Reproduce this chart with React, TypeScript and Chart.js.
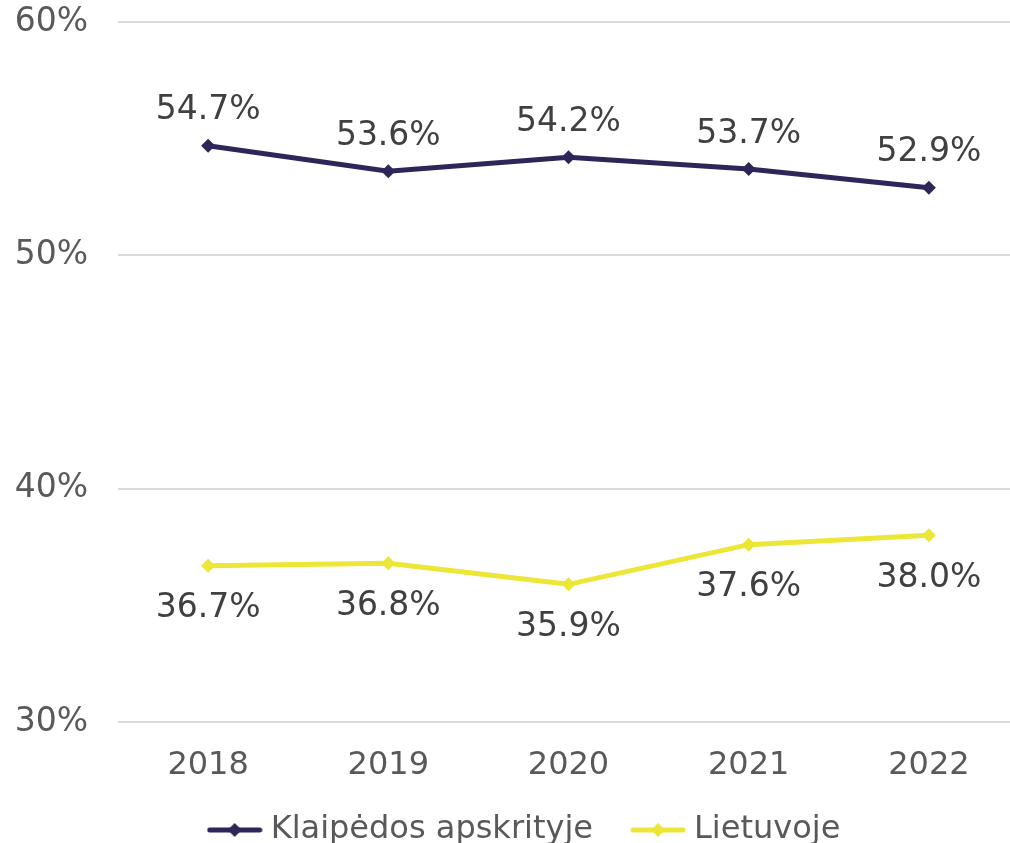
import React, { useEffect, useRef } from "react";
import { Chart, registerables } from "chart.js";

Chart.register(...registerables);

const categories = ["2018", "2019", "2020", "2021", "2022"];
const klaipedaValues = [54.7, 53.6, 54.2, 53.7, 52.9];
const lietuvaValues = [36.7, 36.8, 35.9, 37.6, 38.0];
const seriesNames = ["Klaipėdos apskrityje", "Lietuvoje"];
const yTicks = [30, 40, 50, 60];

const NAVY = "#2d2658";
const YELLOW = "#ece636";
const FONT = "'DejaVu Sans', Verdana, sans-serif";

function legendIcon(color: string) {
  const c = document.createElement("canvas");
  c.width = 56;
  c.height = 16;
  const ctx = c.getContext("2d")!;
  ctx.strokeStyle = color;
  ctx.lineWidth = 5;
  ctx.lineCap = "round";
  ctx.beginPath();
  ctx.moveTo(3, 8);
  ctx.lineTo(53, 8);
  ctx.stroke();
  ctx.fillStyle = color;
  ctx.beginPath();
  ctx.moveTo(28, 1);
  ctx.lineTo(35, 8);
  ctx.lineTo(28, 15);
  ctx.lineTo(21, 8);
  ctx.closePath();
  ctx.fill();
  return c;
}

const dataLabelPlugin = {
  id: "dataLabels",
  beforeLayout(chart: any) {
    const lg = chart.legend;
    if (lg && !lg.__patched) {
      const origFit = lg.fit;
      lg.fit = function () {
        origFit.call(this);
        this.height = 41;
      };
      const origDraw = lg.draw;
      lg.draw = function () {
        const t = this.top;
        const l = this.left;
        const r = this.right;
        this.top = t - 33;
        this.left = l + 18;
        this.right = r + 18;
        origDraw.call(this);
        this.top = t;
        this.left = l;
        this.right = r;
      };
      lg.__patched = true;
    }
  },
  afterDatasetsDraw(chart: any) {
    const ctx = chart.ctx;
    ctx.save();
    ctx.font = "33px " + FONT;
    ctx.fillStyle = "#404040";
    ctx.textAlign = "center";
    ctx.textBaseline = "middle";
    chart.data.datasets.forEach((ds: any, di: number) => {
      const meta = chart.getDatasetMeta(di);
      meta.data.forEach((pt: any, i: number) => {
        const v = ds.data[i] as number;
        const txt = v.toFixed(1) + "%";
        const dy = di === 0 ? -35 : 43;
        ctx.fillText(txt, pt.x, pt.y + dy);
      });
    });
    ctx.restore();
  },
};

export default function App() {
  const ref = useRef<HTMLCanvasElement>(null);
  useEffect(() => {
    document.body.style.margin = "0";
    const icons = [legendIcon(NAVY), legendIcon(YELLOW)];
    const chart = new Chart(ref.current!, {
      type: "line",
      data: {
        labels: categories,
        datasets: [
          {
            label: seriesNames[0],
            data: klaipedaValues,
            borderColor: NAVY,
            backgroundColor: NAVY,
            borderWidth: 5,
            pointStyle: "rectRot",
            pointRadius: 7,
            pointBackgroundColor: NAVY,
            pointBorderWidth: 0,
            tension: 0,
          },
          {
            label: seriesNames[1],
            data: lietuvaValues,
            borderColor: YELLOW,
            backgroundColor: YELLOW,
            borderWidth: 5,
            pointStyle: "rectRot",
            pointRadius: 7,
            pointBackgroundColor: YELLOW,
            pointBorderWidth: 0,
            tension: 0,
          },
        ],
      },
      options: {
        animation: false,
        responsive: false,
        layout: { padding: { top: 22, right: 29, left: 0, bottom: 0 } },
        scales: {
          x: {
            offset: true,
            grid: { display: false },
            border: { display: false },
            afterFit: (axis: any) => {
              axis.paddingLeft = 0;
              axis.paddingRight = 0;
              axis.height = 80;
            },
            ticks: {
              color: "#595959",
              font: { family: FONT, size: 32 },
              padding: 16,
              maxRotation: 0,
            },
          },
          y: {
            min: 30,
            max: 60,
            afterBuildTicks: (axis: any) => {
              axis.ticks = yTicks.map((v) => ({ value: v }));
            },
            afterFit: (axis: any) => {
              axis.width = 118;
              axis.paddingTop = 0;
              axis.paddingBottom = 0;
            },
            grid: { color: "#d9d9d9", lineWidth: 2, drawTicks: false },
            border: { display: false },
            ticks: {
              color: "#595959",
              font: { family: FONT, size: 33 },
              padding: 30,
              callback: (v: any) => v + "%",
            },
          },
        },
        plugins: {
          tooltip: { enabled: false },
          legend: {
            position: "bottom",
            labels: {
              usePointStyle: true,
              pointStyleWidth: 40,
              color: "#595959",
              font: { family: FONT, size: 32 },
              padding: 45,
              generateLabels: (ch: any) =>
                ch.data.datasets.map((ds: any, i: number) => ({
                  text: ds.label,
                  pointStyle: icons[i],
                  fillStyle: ds.borderColor,
                  strokeStyle: ds.borderColor,
                  lineWidth: 0,
                  hidden: false,
                  datasetIndex: i,
                  fontColor: "#595959",
                })),
            },
          },
        },
      },
      plugins: [dataLabelPlugin],
    });
    return () => chart.destroy();
  }, []);
  return (
    <div style={{ width: 1010, height: 843, overflow: "hidden", position: "relative" }}>
      <canvas ref={ref} width={1048} height={843} style={{ display: "block" }} />
    </div>
  );
}
